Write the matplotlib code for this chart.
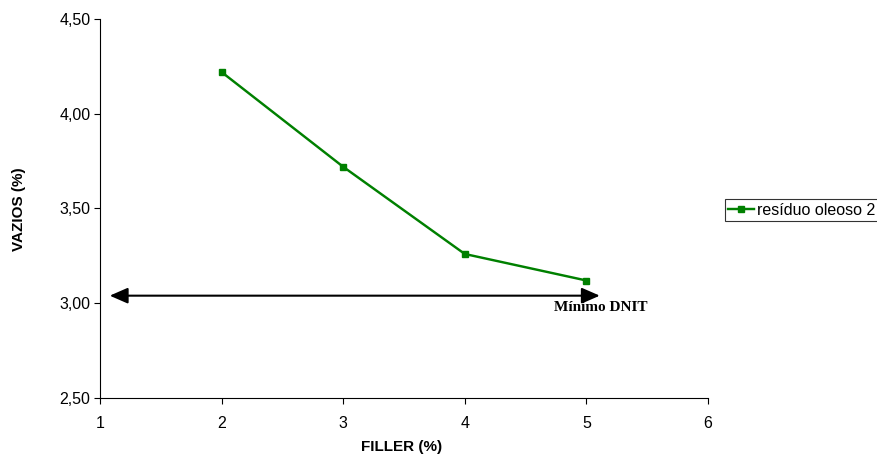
import matplotlib
matplotlib.use("Agg")
import matplotlib.pyplot as plt

# Void content (%) versus filler content (%)
filler = [2, 3, 4, 5]
vazios = [4.22, 3.72, 3.26, 3.12]
series_label = "resíduo oleoso 2"

x_ticks = [1, 2, 3, 4, 5, 6]
y_ticks = [2.50, 3.00, 3.50, 4.00, 4.50]
y_tick_labels = ["2,50", "3,00", "3,50", "4,00", "4,50"]

# DNIT minimum reference arrow
dnit_level = 3.04
dnit_start = 1.08
dnit_end = 5.11
dnit_label = "Mínimo DNIT"

plt.rcParams["font.family"] = ["Liberation Sans", "DejaVu Sans"]

W, H = 878, 461
fig = plt.figure(figsize=(W / 100, H / 100), dpi=100)
ax = fig.add_axes([100 / W, 1 - 398 / H, 608 / W, 379 / H])

green = "#008000"
ax.plot(filler, vazios, color=green, lw=1.75, marker="s", markersize=5,
        markeredgecolor=green, markerfacecolor=green, label=series_label)

ax.annotate("", xy=(dnit_end, dnit_level), xytext=(dnit_start, dnit_level),
            arrowprops=dict(arrowstyle="<|-|>,head_length=0.55,head_width=0.24",
                            color="black", lw=1.5, mutation_scale=20,
                            shrinkA=0, shrinkB=0))
ax.text(4.73, 2.98, dnit_label, fontsize=11, fontweight="bold",
        family=["Liberation Serif", "DejaVu Serif"], va="center", ha="left")

ax.set_xlim(1, 6)
ax.set_ylim(2.5, 4.5)
ax.set_xticks(x_ticks)
ax.set_xticklabels([str(t) for t in x_ticks])
ax.set_yticks(y_ticks)
ax.set_yticklabels(y_tick_labels)
ax.tick_params(direction="out", length=4, width=0.8, labelsize=11.5)
ax.tick_params(axis="x", pad=9)
ax.tick_params(axis="y", pad=3)

for side in ("top", "right"):
    ax.spines[side].set_visible(False)
for side in ("left", "bottom"):
    ax.spines[side].set_linewidth(0.8)

fig.text(402 / W, 1 - 447 / H, "FILLER (%)", fontsize=11, fontweight="bold",
         ha="center", va="center")
fig.text(19 / W, 1 - 209 / H, "VAZIOS (%)", fontsize=11, fontweight="bold",
         rotation=90, ha="center", va="center")

leg = fig.legend(loc="center left", bbox_to_anchor=(725 / W, 1 - 210 / H),
                 frameon=True, fancybox=False, fontsize=11.5, handlelength=1.6,
                 handletextpad=0.2, borderpad=0.2, borderaxespad=0)
leg.get_frame().set_edgecolor("black")
leg.get_frame().set_linewidth(0.8)

fig.savefig("out.png", dpi=100)
